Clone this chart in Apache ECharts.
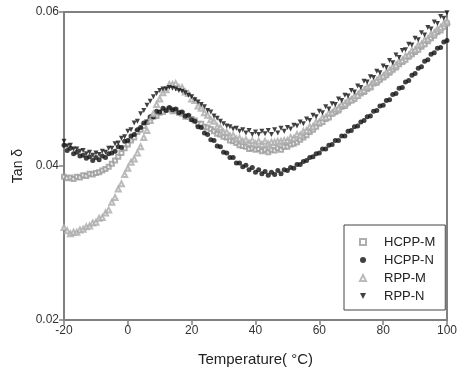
<!DOCTYPE html>
<html>
<head>
<meta charset="utf-8">
<script src="https://cdn.jsdelivr.net/npm/echarts@6/dist/echarts.min.js"></script>
<style>
  html, body { margin: 0; padding: 0; background: #fff; }
  #main { width: 460px; height: 377px; }
</style>
</head>
<body>
<div id="main"></div>
<script>
// 温度 -20 ~ 100 ℃，每 1 ℃ 一个点
var temps = [];
for (var t = -20; t <= 100; t++) temps.push(t);

var seriesNames = ['HCPP-M', 'HCPP-N', 'RPP-M', 'RPP-N'];

// HCPP-M 空心方块
var hcppM = [
  0.0386, 0.0384, 0.0385, 0.0383, 0.0386, 0.0385, 0.0388, 0.0387, 0.0390, 0.0389,
  0.0391, 0.0392, 0.0394, 0.0396, 0.0399, 0.0403, 0.0407, 0.0412, 0.0417, 0.0423,
  0.0428, 0.0433, 0.0437, 0.0444, 0.0447, 0.0452, 0.0457, 0.0459, 0.0464, 0.0465,
  0.0469, 0.0470, 0.0473, 0.0474, 0.0471, 0.0472, 0.0469, 0.0468, 0.0464, 0.0464,
  0.0461, 0.0459, 0.0455, 0.0455, 0.0451, 0.0450, 0.0448, 0.0445, 0.0442, 0.0441,
  0.0438, 0.0437, 0.0433, 0.0432, 0.0430, 0.0427, 0.0426, 0.0425, 0.0422, 0.0423,
  0.0421, 0.0422, 0.0419, 0.0421, 0.0418, 0.0421, 0.0420, 0.0423, 0.0421, 0.0425,
  0.0425, 0.0428, 0.0429, 0.0431, 0.0434, 0.0437, 0.0440, 0.0444, 0.0447, 0.0451,
  0.0455, 0.0457, 0.0461, 0.0463, 0.0468, 0.0470, 0.0472, 0.0477, 0.0478, 0.0482,
  0.0485, 0.0487, 0.0491, 0.0494, 0.0496, 0.0500, 0.0502, 0.0507, 0.0508, 0.0512,
  0.0515, 0.0518, 0.0521, 0.0525, 0.0528, 0.0532, 0.0535, 0.0538, 0.0542, 0.0545,
  0.0548, 0.0551, 0.0555, 0.0558, 0.0562, 0.0566, 0.0569, 0.0574, 0.0576, 0.0581,
  0.0585
];

// HCPP-N 实心圆
var hcppN = [
  0.0427, 0.0420, 0.0423, 0.0416, 0.0418, 0.0413, 0.0414, 0.0410, 0.0412, 0.0407,
  0.0411, 0.0408, 0.0413, 0.0411, 0.0416, 0.0417, 0.0419, 0.0425, 0.0424, 0.0432,
  0.0433, 0.0439, 0.0441, 0.0447, 0.0450, 0.0456, 0.0457, 0.0464, 0.0464, 0.0471,
  0.0470, 0.0475, 0.0472, 0.0476, 0.0473, 0.0474, 0.0469, 0.0470, 0.0465, 0.0466,
  0.0460, 0.0458, 0.0451, 0.0450, 0.0443, 0.0441, 0.0434, 0.0433, 0.0426, 0.0425,
  0.0418, 0.0417, 0.0411, 0.0411, 0.0404, 0.0404, 0.0399, 0.0401, 0.0395, 0.0398,
  0.0392, 0.0395, 0.0390, 0.0393, 0.0388, 0.0392, 0.0389, 0.0394, 0.0390, 0.0395,
  0.0394, 0.0398, 0.0397, 0.0402, 0.0402, 0.0406, 0.0407, 0.0411, 0.0412, 0.0416,
  0.0417, 0.0422, 0.0422, 0.0427, 0.0428, 0.0433, 0.0433, 0.0439, 0.0439, 0.0445,
  0.0446, 0.0451, 0.0452, 0.0457, 0.0459, 0.0464, 0.0465, 0.0471, 0.0472, 0.0478,
  0.0479, 0.0485, 0.0486, 0.0493, 0.0494, 0.0501, 0.0502, 0.0509, 0.0511, 0.0518,
  0.0520, 0.0527, 0.0529, 0.0536, 0.0538, 0.0545, 0.0547, 0.0553, 0.0554, 0.0561,
  0.0563
];

// RPP-M 空心三角
var rppM = [
  0.0320, 0.0316, 0.0312, 0.0314, 0.0314, 0.0317, 0.0318, 0.0321, 0.0322, 0.0326,
  0.0327, 0.0332, 0.0333, 0.0339, 0.0343, 0.0353, 0.0359, 0.0370, 0.0377, 0.0389,
  0.0397, 0.0405, 0.0409, 0.0417, 0.0425, 0.0437, 0.0446, 0.0459, 0.0468, 0.0480,
  0.0487, 0.0495, 0.0499, 0.0506, 0.0506, 0.0507, 0.0502, 0.0502, 0.0496, 0.0494,
  0.0487, 0.0485, 0.0478, 0.0475, 0.0469, 0.0466, 0.0460, 0.0458, 0.0451, 0.0450,
  0.0444, 0.0444, 0.0439, 0.0440, 0.0435, 0.0436, 0.0432, 0.0434, 0.0430, 0.0433,
  0.0429, 0.0432, 0.0428, 0.0432, 0.0429, 0.0431, 0.0431, 0.0432, 0.0432, 0.0433,
  0.0433, 0.0437, 0.0436, 0.0441, 0.0440, 0.0445, 0.0446, 0.0451, 0.0451, 0.0457,
  0.0457, 0.0463, 0.0463, 0.0469, 0.0469, 0.0474, 0.0475, 0.0480, 0.0481, 0.0485,
  0.0486, 0.0491, 0.0492, 0.0497, 0.0498, 0.0503, 0.0504, 0.0509, 0.0511, 0.0516,
  0.0517, 0.0522, 0.0524, 0.0529, 0.0531, 0.0536, 0.0537, 0.0543, 0.0544, 0.0550,
  0.0551, 0.0557, 0.0558, 0.0564, 0.0565, 0.0571, 0.0573, 0.0578, 0.0580, 0.0585,
  0.0588
];

// RPP-N 实心倒三角
var rppN = [
  0.0432, 0.0426, 0.0427, 0.0422, 0.0422, 0.0419, 0.0420, 0.0416, 0.0418, 0.0414,
  0.0417, 0.0415, 0.0419, 0.0418, 0.0423, 0.0423, 0.0429, 0.0430, 0.0436, 0.0438,
  0.0445, 0.0447, 0.0456, 0.0458, 0.0468, 0.0472, 0.0479, 0.0484, 0.0490, 0.0494,
  0.0498, 0.0500, 0.0500, 0.0502, 0.0501, 0.0500, 0.0498, 0.0497, 0.0495, 0.0492,
  0.0490, 0.0486, 0.0483, 0.0480, 0.0477, 0.0472, 0.0470, 0.0465, 0.0462, 0.0458,
  0.0455, 0.0452, 0.0451, 0.0448, 0.0449, 0.0445, 0.0447, 0.0443, 0.0446, 0.0441,
  0.0444, 0.0441, 0.0445, 0.0442, 0.0446, 0.0441, 0.0447, 0.0443, 0.0449, 0.0445,
  0.0450, 0.0448, 0.0453, 0.0452, 0.0457, 0.0455, 0.0461, 0.0459, 0.0466, 0.0464,
  0.0471, 0.0469, 0.0477, 0.0474, 0.0481, 0.0480, 0.0487, 0.0485, 0.0492, 0.0491,
  0.0498, 0.0496, 0.0504, 0.0502, 0.0510, 0.0509, 0.0516, 0.0515, 0.0523, 0.0521,
  0.0530, 0.0528, 0.0537, 0.0534, 0.0544, 0.0541, 0.0550, 0.0551, 0.0558, 0.0557,
  0.0566, 0.0564, 0.0573, 0.0570, 0.0580, 0.0578, 0.0587, 0.0585, 0.0594, 0.0592,
  0.0599
];

function pairs(values) {
  return temps.map(function (t, i) { return [t, values[i]]; });
}

var axisGray = '#808080';
var fontFamily = '"Liberation Sans", Arial, sans-serif';
var downTriangle = 'path://M0,0L10,0L5,10Z';

var myChart = echarts.init(document.getElementById('main'));

var option = {
  backgroundColor: '#fff',
  animation: false,
  textStyle: { fontFamily: fontFamily },
  grid: {
    left: 64, right: 11, top: 12, bottom: 57,
    show: true,
    borderColor: axisGray,
    borderWidth: 2
  },
  legend: {
    orient: 'vertical',
    left: 344,
    top: 225,
    padding: [10, 10, 7, 15],
    itemGap: 4,
    itemWidth: 6,
    itemHeight: 6,
    borderColor: '#444',
    borderWidth: 1,
    textStyle: {
      fontSize: 13,
      lineHeight: 14,
      color: '#222',
      padding: [0, 0, 0, 13]
    },
    data: [
      { name: 'HCPP-M' },
      { name: 'HCPP-N' },
      { name: 'RPP-M' },
      { name: 'RPP-N', icon: downTriangle }
    ]
  },
  xAxis: {
    type: 'value',
    min: -20,
    max: 100,
    interval: 20,
    name: 'Temperature( °C)',
    nameLocation: 'middle',
    nameGap: 32,
    nameTextStyle: { fontSize: 15, color: '#222' },
    axisLine: { onZero: false, lineStyle: { color: axisGray, width: 2 } },
    axisTick: { inside: false, length: 5, lineStyle: { color: axisGray, width: 1.5 } },
    axisLabel: { fontSize: 12, color: '#333', margin: 5 },
    splitLine: { show: false }
  },
  yAxis: {
    type: 'value',
    min: 0.02,
    max: 0.06,
    interval: 0.02,
    name: 'Tan δ',
    nameLocation: 'middle',
    nameGap: 36,
    nameTextStyle: { fontSize: 14, color: '#222' },
    axisLine: { onZero: false, lineStyle: { color: axisGray, width: 2 } },
    axisTick: { inside: false, length: 5, lineStyle: { color: axisGray, width: 1.5 } },
    axisLabel: {
      fontSize: 12, color: '#333', margin: 5,
      formatter: function (v) { return v.toFixed(2); }
    },
    splitLine: { show: false }
  },
  series: [
    {
      name: 'HCPP-M',
      type: 'scatter',
      symbol: 'emptyRect',
      symbolSize: 4,
      itemStyle: { color: '#9a9a9a', borderWidth: 1 },
      data: pairs(hcppM)
    },
    {
      name: 'HCPP-N',
      type: 'scatter',
      symbol: 'circle',
      symbolSize: 5,
      itemStyle: { color: '#111' },
      data: pairs(hcppN)
    },
    {
      name: 'RPP-M',
      type: 'scatter',
      symbol: 'emptyTriangle',
      symbolSize: 5,
      itemStyle: { color: '#aaaaaa', borderWidth: 1 },
      data: pairs(rppM)
    },
    {
      name: 'RPP-N',
      type: 'scatter',
      symbol: downTriangle,
      symbolSize: 5,
      itemStyle: { color: '#111' },
      data: pairs(rppN)
    }
  ]
};

option && myChart.setOption(option);
window.addEventListener('resize', function () {
  if (myChart) myChart.resize();
});
</script>
</body>
</html>
